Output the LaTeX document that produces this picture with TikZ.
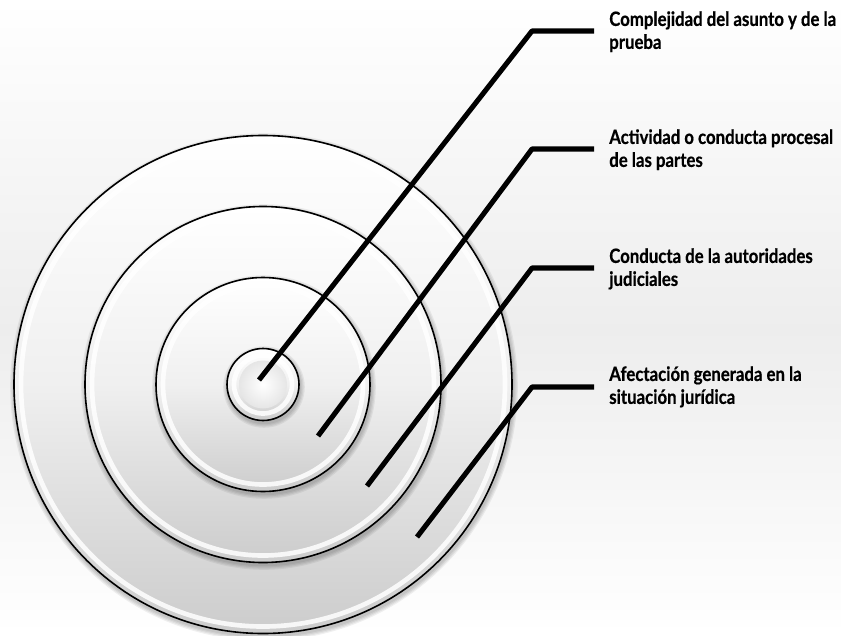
\documentclass[tikz,border=0pt]{standalone}
\usepackage{fontspec}
\setmainfont{Lato}[BoldFont={Lato Bold},BoldFeatures={FakeBold=0.6},FakeStretch=0.85]
\usetikzlibrary{shadows,fadings}
\begin{document}
\begin{tikzpicture}[x=0.75pt,y=-0.75pt,
  disk/.style={draw=black,line width=1.2pt,top color=white,bottom color=black!20,middle color=black!6},
  bevel/.style={draw=white,line width=3.5pt,opacity=0.85},
  leader/.style={line width=3.8pt,line join=round},
  lbl/.style={anchor=north west,inner sep=0pt,align=left,font=\bfseries\fontsize{14.8}{17.2}\selectfont}]
\useasboundingbox (0,0) rectangle (841,635);
\shade[top color=white,bottom color=black!7] (0,0) rectangle (841,330);
\shade[top color=black!7,bottom color=white] (0,330) rectangle (841,635);
% disks
\foreach \r/\n in {249/d4,178/d3,107/d2,36/d1}{
  \foreach \k in {1,...,4}{
    \fill[black,opacity=0.06] (264,387) circle (\r+\k*1.2);
  }
  \draw[disk] (263,384.5) circle (\r);
  \draw[bevel] (263,384.5) circle (\r-7);
}
\shade[inner color=white,outer color=black!10] (263,384.5) circle (24);
% anchors
\coordinate (p1) at (259,380); \coordinate (k1) at (532,31); \coordinate (e1) at (594,31);
\coordinate (p2) at (318,436); \coordinate (k2) at (532,149); \coordinate (e2) at (594,149);
\coordinate (p3) at (367,486); \coordinate (k3) at (532,268); \coordinate (e3) at (594,268);
\coordinate (p4) at (417,537); \coordinate (k4) at (532,387); \coordinate (e4) at (594,387);
\draw[leader] (p1) -- (k1) -- (e1);
\draw[leader] (p2) -- (k2) -- (e2);
\draw[leader] (p3) -- (k3) -- (e3);
\draw[leader] (p4) -- (k4) -- (e4);
\node[lbl] (t1) at (609,11) {Complejidad del asunto y de la\\prueba};
\node[lbl] (t2) at (609,129) {Actividad o conducta procesal\\de las partes};
\node[lbl] (t3) at (609,248) {Conducta de la autoridades\\judiciales};
\node[lbl] (t4) at (609,366) {Afectación generada en la\\situación jurídica};
\end{tikzpicture}
\end{document}
